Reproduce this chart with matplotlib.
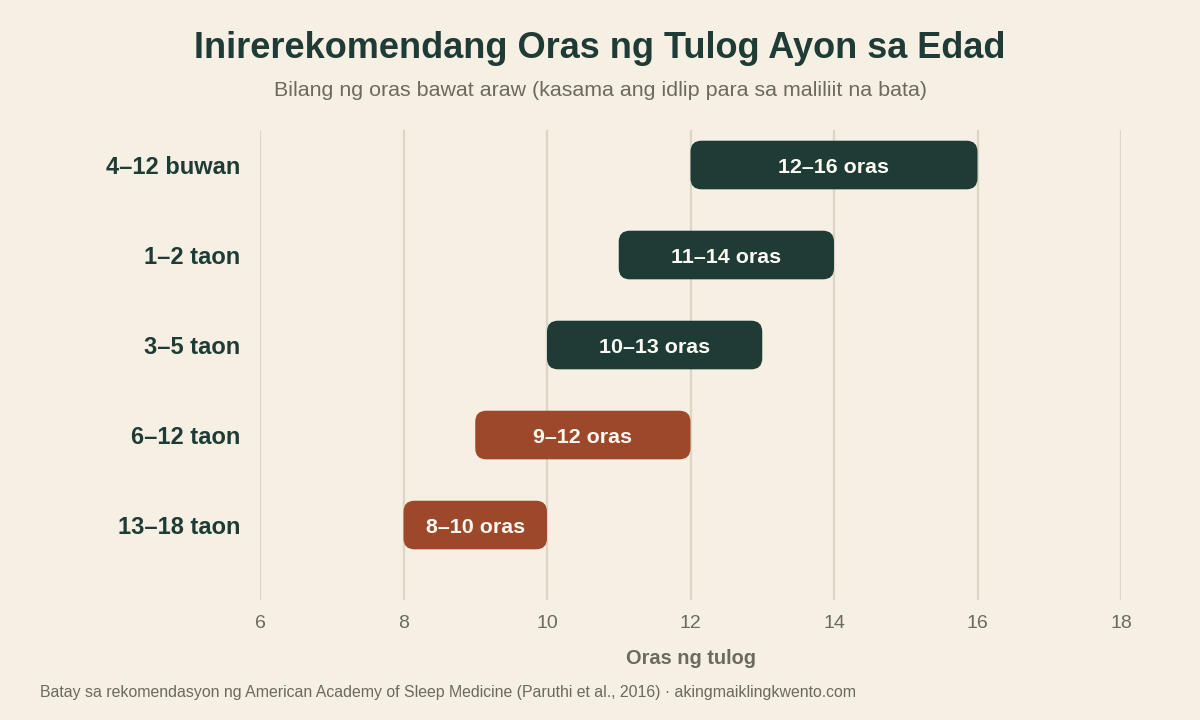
import matplotlib
matplotlib.use("Agg")
import matplotlib.pyplot as plt
from matplotlib.patches import FancyBboxPatch

categories = ["4–12 buwan", "1–2 taon", "3–5 taon", "6–12 taon", "13–18 taon"]
start_hours = [12, 11, 10, 9, 8]
end_hours = [16, 14, 13, 12, 10]
bar_labels = ["12–16 oras", "11–14 oras", "10–13 oras", "9–12 oras", "8–10 oras"]
groups = ["young", "young", "young", "older", "older"]
x_ticks = [6, 8, 10, 12, 14, 16, 18]

BG = "#f5efe4"
DARK = "#1f3b35"
RUST = "#9e482b"
GRID = "#ddd5c5"
MUTED = "#6b6a5c"
colors = {"young": DARK, "older": RUST}

plt.rcParams["font.family"] = ["Liberation Sans", "DejaVu Sans"]

fig = plt.figure(figsize=(12, 7.2), dpi=100, facecolor=BG)
ax = fig.add_axes([260 / 1200, 1 - 600 / 720, (1121 - 260) / 1200, (600 - 130) / 720])
ax.set_facecolor(BG)

ax.set_xlim(6, 18)
ax.set_ylim(4 + 0.833, -0.389)

px_x = (1121 - 260) / 12.0
px_y = 90.0
r_px = 11
rx = r_px / px_x
aspect = (r_px / px_y) / rx
h = 0.54

for i, (s, e, lab, g) in enumerate(zip(start_hours, end_hours, bar_labels, groups)):
    p = FancyBboxPatch((s, i - h / 2), e - s, h,
                       boxstyle=f"round,pad=0,rounding_size={rx}",
                       mutation_aspect=aspect,
                       facecolor=colors[g], edgecolor="none", zorder=3)
    ax.add_patch(p)
    ax.text((s + e) / 2, i, lab, ha="center", va="center_baseline", color="#fdfaf4",
            fontsize=15.4, fontweight="bold", zorder=4)

ax.set_xticks(x_ticks)
ax.set_xticklabels([str(t) for t in x_ticks], color=MUTED, fontsize=14)
ax.set_yticks(range(len(categories)))
ax.set_yticklabels(categories, color=DARK, fontsize=17, fontweight="bold")
ax.tick_params(axis="both", length=0)
ax.tick_params(axis="x", pad=11)
ax.tick_params(axis="y", pad=14)
ax.grid(axis="x", color=GRID, linewidth=1.6, zorder=0)
ax.grid(axis="y", visible=False)
for sp in ax.spines.values():
    sp.set_visible(False)

ax.set_xlabel("Oras ng tulog", color=MUTED, fontsize=14.4, fontweight="bold", labelpad=12)

fig.text(0.5, 1 - 49 / 720, "Inirerekomendang Oras ng Tulog Ayon sa Edad",
         ha="center", va="center", color=DARK, fontsize=26, fontweight="bold")
fig.text(0.5, 1 - 91 / 720, "Bilang ng oras bawat araw (kasama ang idlip para sa maliliit na bata)",
         ha="center", va="center", color=MUTED, fontsize=15.4)
fig.text(40 / 1200, 1 - 692 / 720,
         "Batay sa rekomendasyon ng American Academy of Sleep Medicine (Paruthi et al., 2016) · akingmaiklingkwento.com",
         ha="left", va="center", color=MUTED, fontsize=11.4)

fig.savefig("out.png", dpi=100, facecolor=BG)
